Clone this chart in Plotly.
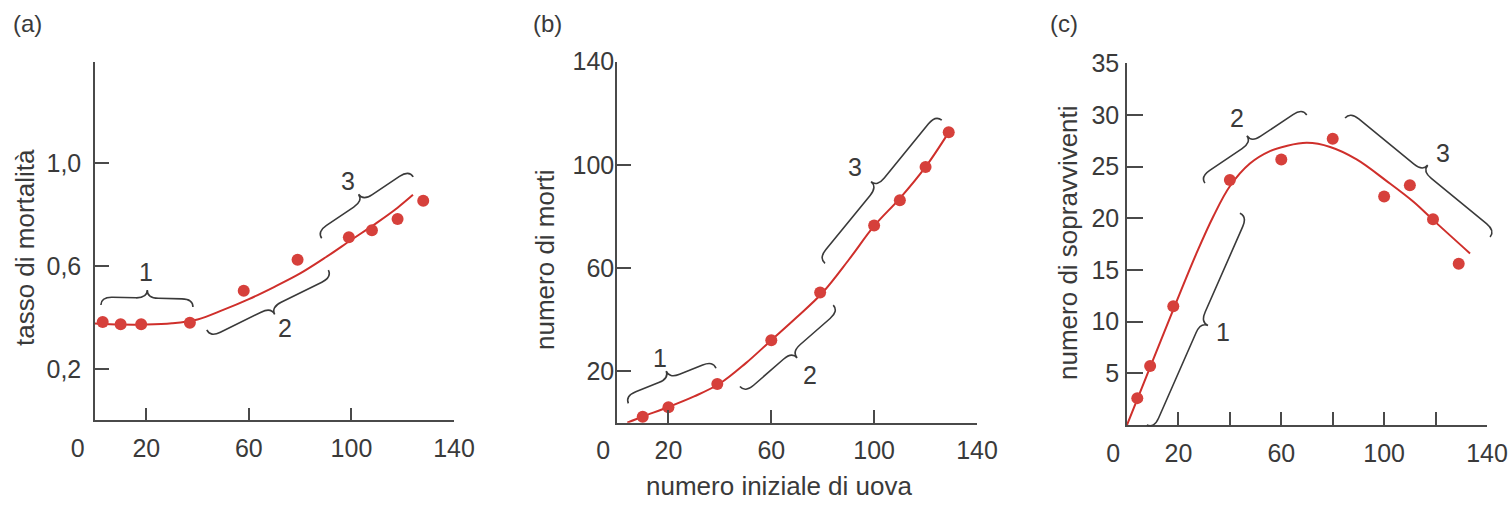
import plotly.graph_objects as go

W, H = 1508, 505

# ---------------- data ----------------
eggs_a = [3, 10, 18, 37, 58, 79, 99, 108, 118, 128]
mortality = [0.383, 0.374, 0.374, 0.380, 0.505, 0.625, 0.713, 0.740, 0.784, 0.855]
fit_x_a = [0, 10, 20, 30, 40, 50, 60, 70, 80, 90, 100, 110, 118, 124]
fit_y_a = [0.377, 0.373, 0.373, 0.378, 0.393, 0.43, 0.472, 0.52, 0.572, 0.635, 0.703, 0.77, 0.828, 0.878]

eggs_b = [10, 20, 39, 60, 79, 100, 110, 120, 129]
deaths = [2.3, 6.0, 15.0, 32.0, 50.5, 76.5, 86.3, 99.2, 112.6]
fit_x_b = [4, 10, 20, 30, 40, 50, 60, 70, 80, 90, 100, 110, 120, 129]
fit_y_b = [0, 2.4, 6.1, 10.2, 15.2, 23, 32, 41, 50.5, 63, 76.3, 87, 99.2, 112.6]

eggs_c = [4, 9, 18, 40, 60, 80, 100, 110, 119, 129]
survivors = [2.6, 5.7, 11.5, 23.7, 25.7, 27.7, 22.1, 23.2, 19.9, 15.6]
fit_x_c = [0, 9, 18.7, 27, 33.6, 40, 47.8, 55.6, 62, 70, 79, 89.3, 101, 111.4, 119.2, 133.4]
fit_y_c = [0, 5.6, 11.6, 16.6, 20.2, 23.1, 25.3, 26.5, 27.0, 27.3, 26.9, 25.7, 23.6, 21.6, 19.8, 16.6]

x_tick_vals_ab = [0, 20, 60, 100, 140]
x_tick_text_ab = ["0", "20", "60", "100", "140"]
x_tick_vals_c = [0, 20, 40, 60, 80, 100, 120, 140]
x_tick_text_c = ["0", "20", "", "60", "", "100", "", "140"]

y_tick_vals_a = [0.2, 0.6, 1.0]
y_tick_text_a = ["0,2", "0,6", "1,0"]
y_tick_vals_b = [20, 60, 100, 140]
y_tick_text_b = ["20", "60", "100", "140"]
y_tick_vals_c = [5, 10, 15, 20, 25, 30, 35]
y_tick_text_c = ["5", "10", "15", "20", "25", "30", "35"]

titles_y = ["tasso di mortalità", "numero di morti", "numero di sopravviventi"]
title_x = "numero iniziale di uova"
panel_letters = ["(a)", "(b)", "(c)"]

# braces: (start point, end point) in data units, side of the tip, label and label position
braces_a = [((2.3, 0.449), (38.2, 0.441), 1, "1", (19.9, 0.577)),
            ((43.6, 0.352), (91.0, 0.585), -1, "2", (74.1, 0.358)),
            ((88.4, 0.709), (124.1, 0.948), 1, "3", (98.8, 0.932))]
braces_b = [((4.4, 7.5), (38.5, 21.1), 1, "1", (16.7, 25.0)),
            ((47.8, 14.0), (84.1, 45.6), -1, "2", (75.1, 18.5)),
            ((80.9, 61.8), (126.3, 117.3), 1, "3", (92.6, 99.2))]
braces_c = [((7.7, 0.0), (43.9, 20.5), -1, "1", (37.5, 9.0)),
            ((30.3, 23.4), (69.9, 30.0), 1, "2", (42.7, 29.7)),
            ((84.8, 29.7), (141.2, 18.2), 1, "3", (123.0, 26.3))]

# ---------------- layout geometry (pixels) ----------------
panels = [
    dict(px0=95, px1=454, py0=420.4, py1=62, xr=(0, 140), yr=(0, 1.395)),
    dict(px0=617, px1=977, py0=422.7, py1=61.7, xr=(0, 140), yr=(0, 140)),
    dict(px0=1127, px1=1487, py0=425, py1=63.3, xr=(0, 140), yr=(0, 35)),
]

FONT = "Liberation Sans, Arial, Helvetica, sans-serif"
TXT = "#3a3a3a"
AX = "#4a4a4a"
RED_PT = "#d6403b"
RED_LN = "#cf2f2b"


def to_px(p, xd, yd):
    sx = (p["px1"] - p["px0"]) / (p["xr"][1] - p["xr"][0])
    sy = (p["py0"] - p["py1"]) / (p["yr"][1] - p["yr"][0])
    return p["px0"] + (xd - p["xr"][0]) * sx, p["py0"] - (yd - p["yr"][0]) * sy


def brace_path(a, b, side, h=16.0):
    (x0, y0), (x1, y1) = a, b
    dx, dy = x1 - x0, y1 - y0
    L = (dx * dx + dy * dy) ** 0.5
    ux, uy = dx / L, dy / L
    nx, ny = side * uy, -side * ux
    r = min(0.7 * h, L / 4)
    hh = h / 2

    def g(s, t):
        X = x0 + ux * s + nx * t
        Y = y0 + uy * s + ny * t
        return f"{X / W:.5f},{1 - Y / H:.5f}"

    return (f"M{g(0, 0)} Q{g(0, hh)} {g(r, hh)} L{g(L / 2 - r, hh)} "
            f"Q{g(L / 2, hh)} {g(L / 2, h)} Q{g(L / 2, hh)} {g(L / 2 + r, hh)} "
            f"L{g(L - r, hh)} Q{g(L, hh)} {g(L, 0)}")


fig = go.Figure()

series = [
    (eggs_a, mortality, fit_x_a, fit_y_a),
    (eggs_b, deaths, fit_x_b, fit_y_b),
    (eggs_c, survivors, fit_x_c, fit_y_c),
]
for i, (px_, py_, fx, fy) in enumerate(series):
    suf = "" if i == 0 else str(i + 1)
    fig.add_trace(go.Scatter(x=fx, y=fy, mode="lines", xaxis="x" + suf, yaxis="y" + suf,
                             line=dict(color=RED_LN, width=2, shape="spline", smoothing=1.0),
                             cliponaxis=False, hoverinfo="skip", showlegend=False))
    fig.add_trace(go.Scatter(x=px_, y=py_, mode="markers", xaxis="x" + suf, yaxis="y" + suf,
                             marker=dict(color=RED_PT, size=12, line=dict(width=0)),
                             cliponaxis=False, showlegend=False))

layout = dict(width=W, height=H, margin=dict(l=0, r=0, t=0, b=0, autoexpand=False),
              paper_bgcolor="white", plot_bgcolor="white", showlegend=False,
              font=dict(family=FONT, color=TXT))

xt = [(x_tick_vals_ab, x_tick_text_ab, 5), (x_tick_vals_ab, x_tick_text_ab, 4),
      (x_tick_vals_c, x_tick_text_c, 4)]
yt = [(y_tick_vals_a, y_tick_text_a, 7, 14), (y_tick_vals_b, y_tick_text_b, -4, 14),
      (y_tick_vals_c, y_tick_text_c, 1, 16)]

for i, p in enumerate(panels):
    suf = "" if i == 0 else str(i + 1)
    tv, tt, pad0 = xt[i]
    tt = [(t + "\u00a0" * pad0) if t == "0" else t for t in tt]
    common = dict(showgrid=False, zeroline=False, showline=True, linecolor=AX, linewidth=1.5,
                  ticks="inside", tickcolor=AX, tickwidth=1.5, automargin=False,
                  tickfont=dict(family=FONT, size=25, color=TXT), fixedrange=True)
    layout["xaxis" + suf] = dict(common, domain=[p["px0"] / W, p["px1"] / W], range=list(p["xr"]),
                                 anchor="y" + suf, tickmode="array", tickvals=tv, ticktext=tt,
                                 ticklen=13, ticklabelstandoff=5)
    yv, ytxt, sto, tl = yt[i]
    layout["yaxis" + suf] = dict(common, domain=[1 - p["py0"] / H, 1 - p["py1"] / H], range=list(p["yr"]),
                                 anchor="x" + suf, tickmode="array", tickvals=yv, ticktext=ytxt,
                                 ticklen=tl, ticklabelstandoff=sto)

shapes = []
annotations = []
for p, braces in zip(panels, [braces_a, braces_b, braces_c]):
    for a, b, side, lab, lpos in braces:
        pa = to_px(p, *a)
        pb = to_px(p, *b)
        shapes.append(dict(type="path", xref="paper", yref="paper", path=brace_path(pa, pb, side),
                           line=dict(color="#3a3a3a", width=1.6)))
        lx, ly = to_px(p, *lpos)
        annotations.append(dict(x=lx / W, y=1 - ly / H, xref="paper", yref="paper", text=lab,
                                showarrow=False, xanchor="center", yanchor="middle",
                                font=dict(family=FONT, size=25, color=TXT)))

# axis titles and panel letters (pixel centres)
ytitle_pos = [(25, 248), (545, 260), (1068, 243)]
for t, (x, y) in zip(titles_y, ytitle_pos):
    annotations.append(dict(x=x / W, y=1 - y / H, xref="paper", yref="paper", text=t, textangle=-90,
                            showarrow=False, xanchor="center", yanchor="middle",
                            font=dict(family=FONT, size=26, color=TXT)))
annotations.append(dict(x=779 / W, y=1 - 486 / H, xref="paper", yref="paper", text=title_x,
                        showarrow=False, xanchor="center", yanchor="middle",
                        font=dict(family=FONT, size=26, color=TXT)))
for t, (x, y) in zip(panel_letters, [(27, 23), (547, 23), (1064, 23)]):
    annotations.append(dict(x=x / W, y=1 - y / H, xref="paper", yref="paper", text=t,
                            showarrow=False, xanchor="center", yanchor="middle",
                            font=dict(family=FONT, size=24, color=TXT)))

layout["shapes"] = shapes
layout["annotations"] = annotations
fig.update_layout(**layout)
fig.write_html("out.html")
